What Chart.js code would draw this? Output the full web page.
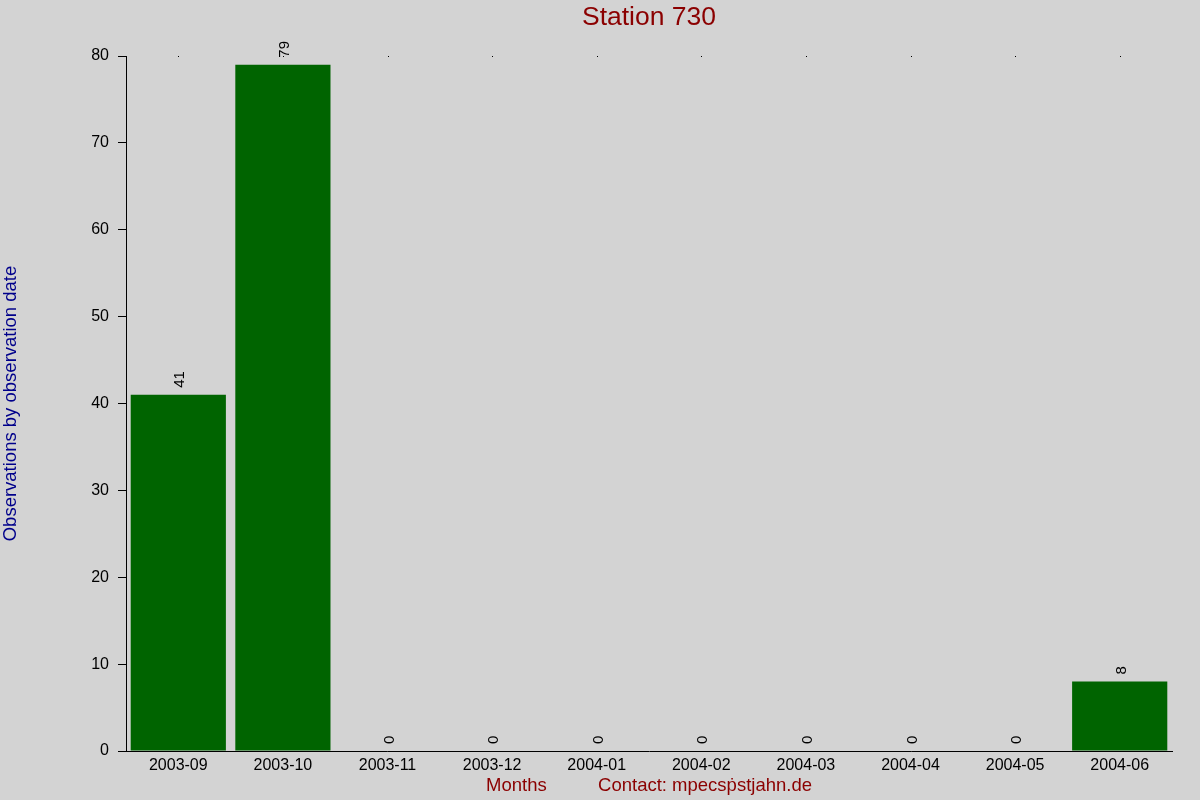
<!DOCTYPE html>
<html>
<head>
<meta charset="utf-8">
<script src="https://cdn.jsdelivr.net/npm/chart.js@4"></script>
<style>
html,body{margin:0;padding:0;background:#d3d3d3;}
canvas{display:block;}
</style>
</head>
<body>
<canvas id="c" width="1200" height="800"></canvas>
<script>
const months = ["2003-09","2003-10","2003-11","2003-12","2004-01","2004-02","2004-03","2004-04","2004-05","2004-06"];
const observations = [41,79,0,0,0,0,0,0,0,8];
const yTicks = [0,10,20,30,40,50,60,70,80];
const chartTitle = "Station 730";
const yTitle = "Observations by observation date";
const xTitle = "Months          Contact: mpecs\u1E57stjahn.de";

const FONT = "'Liberation Sans', Arial, sans-serif";

const bgPlugin = {
  id: 'bg',
  beforeDraw(chart) {
    const ctx = chart.ctx;
    ctx.save();
    ctx.fillStyle = '#d3d3d3';
    ctx.fillRect(0, 0, chart.width, chart.height);
    ctx.restore();
  }
};

const labelPlugin = {
  id: 'barLabels',
  afterDatasetsDraw(chart) {
    const ctx = chart.ctx;
    const meta = chart.getDatasetMeta(0);
    const area = chart.chartArea;
    ctx.save();
    // title centred over the plot area
    ctx.font = "26.5px " + FONT;
    ctx.fillStyle = '#8b0000';
    ctx.textAlign = 'center';
    ctx.textBaseline = 'middle';
    ctx.fillText(chartTitle, (area.left + area.right) / 2, 18);

    ctx.font = "15px " + FONT;
    ctx.fillStyle = '#000';
    ctx.textAlign = 'left';
    ctx.textBaseline = 'middle';
    meta.data.forEach((bar, i) => {
      ctx.save();
      ctx.translate(bar.x + 2, bar.y - 7);
      ctx.rotate(-Math.PI / 2);
      ctx.fillText(String(observations[i]), 0, 0);
      ctx.restore();
    });
    // tiny tick dots along the top edge
    ctx.fillStyle = '#000';
    meta.data.forEach(bar => {
      ctx.fillRect(Math.round(bar.x), area.top, 1, 1);
    });
    ctx.restore();
  }
};

new Chart(document.getElementById('c'), {
  type: 'bar',
  data: {
    labels: months,
    datasets: [{
      data: observations,
      backgroundColor: '#006400',
      borderWidth: 0,
      categoryPercentage: 1.0,
      barPercentage: 0.91
    }]
  },
  options: {
    responsive: false,
    animation: false,
    devicePixelRatio: 1,
    layout: { padding: { left: 0, right: 28, top: 56, bottom: 0 } },
    plugins: {
      legend: { display: false },
      tooltip: { enabled: false },
      title: { display: false }
    },
    scales: {
      x: {
        grid: { display: false, drawTicks: false },
        border: { display: true, color: '#000', width: 1 },
        ticks: {
          color: '#000',
          font: { family: FONT, size: 16 },
          padding: 5,
          maxRotation: 0,
          autoSkip: false
        },
        title: {
          display: true,
          text: xTitle,
          color: '#8b0000',
          font: { family: FONT, size: 18.5 },
          padding: { top: 0, bottom: 3 }
        },
        afterFit(scale) { scale.height = 49; }
      },
      y: {
        min: 0,
        max: 80,
        afterBuildTicks(scale) { scale.ticks = yTicks.map(v => ({ value: v })); },
        grid: { drawOnChartArea: false, drawTicks: true, tickLength: 8, color: '#000' },
        border: { display: true, color: '#000', width: 1 },
        ticks: {
          color: '#000',
          font: { family: FONT, size: 16 },
          padding: 9
        },
        title: {
          display: true,
          text: yTitle,
          color: '#00008b',
          font: { family: FONT, size: 18.5 },
          padding: { top: 0, bottom: 0 }
        },
        afterFit(scale) { scale.width = 126; }
      }
    }
  },
  plugins: [bgPlugin, labelPlugin]
});
</script>
</body>
</html>
